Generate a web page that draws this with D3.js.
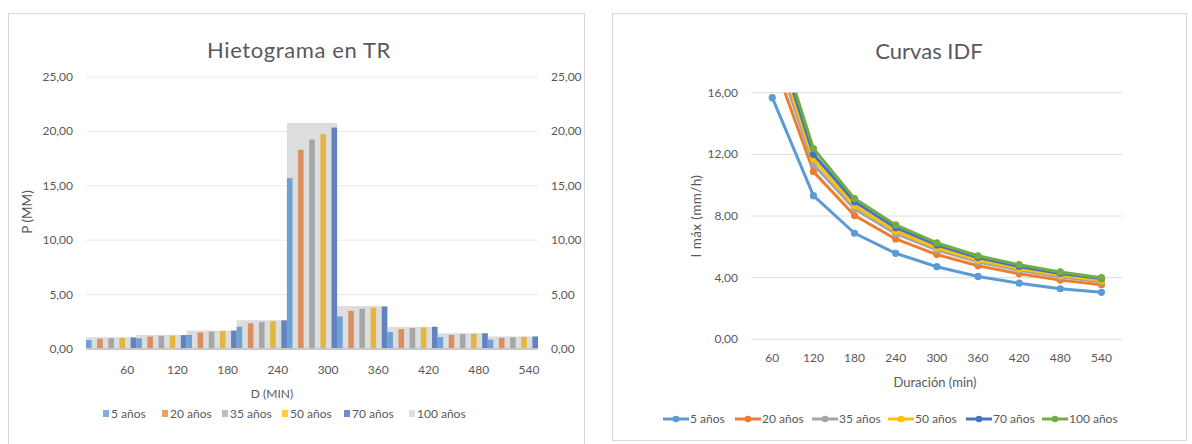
<!DOCTYPE html>
<html>
<head>
<meta charset="utf-8">
<script src="https://cdn.jsdelivr.net/npm/d3@7"></script>
<style>
  body { margin: 0; background: #fff; }
  svg { display: block; }
  text { font-family: Lato, "Noto Sans", sans-serif; fill: #595959; }
</style>
</head>
<body>
<svg id="chart" width="1192" height="444"></svg>
<script>
// Durations (min) used as categories by both charts
const durations = [60, 120, 180, 240, 300, 360, 420, 480, 540];
const seriesNames = ["5 años", "20 años", "35 años", "50 años", "70 años", "100 años"];

// Hyetograph blocks P (mm) per return period, alternating-block order
const hyeto5   = [0.82, 0.98, 1.30, 2.04, 15.70, 3.00, 1.56, 1.10, 0.86];
const hyeto20  = [0.95, 1.14, 1.52, 2.37, 18.30, 3.50, 1.83, 1.30, 1.02];
const hyeto35  = [1.00, 1.21, 1.60, 2.49, 19.25, 3.70, 1.93, 1.37, 1.08];
const hyeto50  = [1.03, 1.24, 1.64, 2.56, 19.75, 3.80, 1.98, 1.40, 1.11];
const hyeto70  = [1.06, 1.28, 1.69, 2.63, 20.35, 3.90, 2.04, 1.44, 1.15];
const hyeto100 = [1.08, 1.30, 1.70, 2.65, 20.78, 3.95, 2.04, 1.45, 1.16];

// IDF curves: maximum intensity (mm/h) per duration
const idf5   = [15.68, 9.32, 6.88, 5.58, 4.71, 4.08, 3.64, 3.28, 3.05];
const idf20  = [18.30, 10.88, 8.03, 6.51, 5.50, 4.77, 4.25, 3.84, 3.54];
const idf35  = [19.25, 11.35, 8.45, 6.85, 5.79, 5.02, 4.48, 4.04, 3.73];
const idf50  = [19.75, 11.70, 8.67, 7.03, 5.94, 5.15, 4.59, 4.15, 3.83];
const idf70  = [20.35, 12.00, 8.93, 7.24, 6.12, 5.30, 4.73, 4.27, 3.94];
const idf100 = [20.78, 12.38, 9.13, 7.42, 6.25, 5.42, 4.84, 4.37, 4.00];

const yTicksLeft  = [0, 5, 10, 15, 20, 25];
const yTicksRight = [0, 4, 8, 12, 16];

const barColors  = ["#6FA1D2", "#DC8F5E", "#A6A6A6", "#E2B640", "#6383C0", "#DCDDDE"];
const legColors  = ["#7DB0E0", "#F2A06B", "#BDBDBD", "#FFCF33", "#6D8ED0", "#E0E0E0"];
const lineColors = ["#5B9BD5", "#ED7D31", "#A5A5A5", "#FFC000", "#4472C4", "#70AD47"];

const hyeto = [hyeto5, hyeto20, hyeto35, hyeto50, hyeto70, hyeto100];
const idf   = [idf5, idf20, idf35, idf50, idf70, idf100];

const fmt = d3.format(".2f");
const comma = v => fmt(v).replace(".", ",");

const svg = d3.select("#chart");

// Panel frames
svg.append("rect").attr("x", 8.5).attr("y", 13.5).attr("width", 576).attr("height", 460)
  .attr("fill", "#fff").attr("stroke", "#D9D9D9");
svg.append("rect").attr("x", 612.5).attr("y", 13.5).attr("width", 574).attr("height", 427)
  .attr("fill", "#fff").attr("stroke", "#D9D9D9");

// ---------- Hietograma ----------
{
  const g = svg.append("g");
  const x = d3.scaleBand().domain(durations).range([86, 538]).padding(0);
  const inner = d3.scaleBand().domain(seriesNames.slice(0, 5))
    .range([0, x.bandwidth()]).paddingInner(0.5).paddingOuter(0);
  const y = d3.scaleLinear().domain([0, 25]).range([349, 77]);

  g.selectAll("line.grid").data(yTicksLeft.filter(t => t > 0)).join("line")
    .attr("x1", 86).attr("x2", 538)
    .attr("y1", d => y(d)).attr("y2", d => y(d))
    .attr("stroke", "#E9E9E9").attr("stroke-width", 1);

  // 100-year series spans the full category width
  g.selectAll("rect.wide").data(durations).join("rect")
    .attr("x", d => x(d)).attr("width", x.bandwidth())
    .attr("y", (d, i) => y(hyeto100[i])).attr("height", (d, i) => y(0) - y(hyeto100[i]))
    .attr("fill", barColors[5]);

  seriesNames.slice(0, 5).forEach((name, s) => {
    g.selectAll("rect.s" + s).data(durations).join("rect")
      .attr("x", d => x(d) + inner(name)).attr("width", inner.bandwidth())
      .attr("y", (d, i) => y(hyeto[s][i])).attr("height", (d, i) => y(0) - y(hyeto[s][i]))
      .attr("fill", barColors[s]);
  });

  g.append("line").attr("x1", 86).attr("x2", 538).attr("y1", y(0)).attr("y2", y(0))
    .attr("stroke", "#C9C9C9").attr("stroke-width", 2);

  g.selectAll("text.yl").data(yTicksLeft).join("text")
    .attr("x", 73).attr("y", d => y(d) + 4).attr("text-anchor", "end")
    .attr("font-size", 12).text(comma);
  g.selectAll("text.yr").data(yTicksLeft).join("text")
    .attr("x", 551).attr("y", d => y(d) + 4).attr("text-anchor", "start")
    .attr("font-size", 12).text(comma);

  g.selectAll("text.xl").data(durations).join("text")
    .attr("x", d => x(d) + x.bandwidth() * 0.82).attr("y", 374)
    .attr("text-anchor", "middle").attr("font-size", 12).text(d => d);

  g.append("text").attr("x", 299).attr("y", 58).attr("text-anchor", "middle")
    .attr("font-size", 22).attr("letter-spacing", 0.6).text("Hietograma en TR");
  g.append("text").attr("transform", "translate(32,212) rotate(-90)")
    .attr("text-anchor", "middle").attr("font-size", 13.5).text("P (MM)");
  g.append("text").attr("x", 272).attr("y", 398).attr("text-anchor", "middle")
    .attr("font-size", 12).text("D (MIN)");

  const legX = [103, 162, 222, 282, 344, 409];
  const leg = g.selectAll("g.leg").data(seriesNames).join("g")
    .attr("transform", (d, i) => `translate(${legX[i]},414)`);
  leg.append("rect").attr("x", 0).attr("y", -4).attr("width", 6).attr("height", 7)
    .attr("fill", (d, i) => legColors[i]);
  leg.append("text").attr("x", 8).attr("y", 4).attr("font-size", 12).text(d => d);
}

// ---------- Curvas IDF ----------
{
  const g = svg.append("g");
  const x = d3.scalePoint().domain(durations).range([751.7, 1122]).padding(0.5);
  const y = d3.scaleLinear().domain([0, 16]).range([339.3, 92.7]);

  g.selectAll("line.grid").data(yTicksRight).join("line")
    .attr("x1", 751.7).attr("x2", 1122)
    .attr("y1", d => y(d)).attr("y2", d => y(d))
    .attr("stroke", "#DCDCDC").attr("stroke-width", 1);

  g.selectAll("text.yl").data(yTicksRight).join("text")
    .attr("x", 738).attr("y", d => y(d) + 4).attr("text-anchor", "end")
    .attr("font-size", 12).text(comma);
  g.selectAll("text.xl").data(durations).join("text")
    .attr("x", d => x(d)).attr("y", 362)
    .attr("text-anchor", "middle").attr("font-size", 12).text(d => d);

  svg.append("clipPath").attr("id", "plotClip").append("rect")
    .attr("x", 740).attr("y", y(16)).attr("width", 400).attr("height", 260);

  const plot = g.append("g").attr("clip-path", "url(#plotClip)");
  const line = d3.line().x((d, i) => x(durations[i])).y(d => y(d));
  idf.forEach((vals, s) => {
    plot.append("path").datum(vals).attr("d", line)
      .attr("fill", "none").attr("stroke", lineColors[s]).attr("stroke-width", 3)
      .attr("stroke-linejoin", "round");
    plot.selectAll("circle.s" + s).data(vals).join("circle")
      .attr("cx", (d, i) => x(durations[i])).attr("cy", d => y(d)).attr("r", 3.6)
      .attr("fill", lineColors[s]);
  });

  g.append("text").attr("x", 929).attr("y", 59).attr("text-anchor", "middle")
    .attr("font-size", 22).text("Curvas IDF");
  g.append("text").attr("transform", "translate(701,216) rotate(-90)")
    .attr("text-anchor", "middle").attr("font-size", 13.5).attr("letter-spacing", 0.4)
    .text("I máx (mm/h)");
  g.append("text").attr("x", 935).attr("y", 387).attr("text-anchor", "middle")
    .attr("font-size", 13).text("Duración (min)");

  const legX = [663, 735, 812, 888, 966, 1042];
  const leg = g.selectAll("g.leg").data(seriesNames).join("g")
    .attr("transform", (d, i) => `translate(${legX[i]},419)`);
  leg.append("line").attr("x1", 0).attr("x2", 26).attr("y1", 0).attr("y2", 0)
    .attr("stroke", (d, i) => lineColors[i]).attr("stroke-width", 3);
  leg.append("circle").attr("cx", 13).attr("cy", 0).attr("r", 3.3)
    .attr("fill", (d, i) => lineColors[i]);
  leg.append("text").attr("x", 27).attr("y", 4).attr("font-size", 12).text(d => d);
}
</script>
</body>
</html>
